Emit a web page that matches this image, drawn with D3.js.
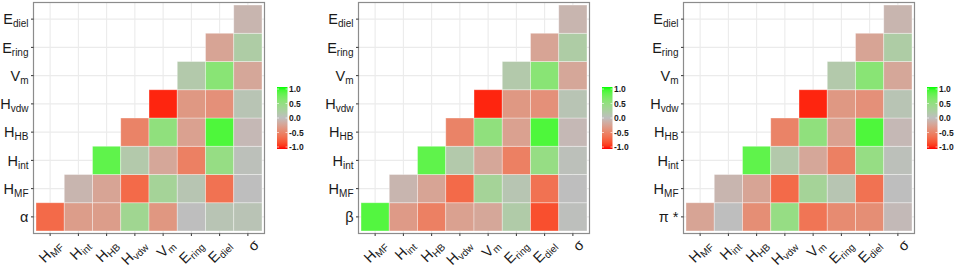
<!DOCTYPE html>
<html>
<head>
<meta charset="utf-8">
<script src="https://cdn.jsdelivr.net/npm/d3@7"></script>
<style>
  body { margin: 0; background: #fff; }
  text { font-family: "Liberation Sans", Arial, sans-serif; }
</style>
</head>
<body>
<script>
// Correlation triangles for three solvent parameters

// x axis variables, left to right
const colVars = ["HMF", "Hint", "HHB", "Hvdw", "Vm", "Ering", "Ediel", "sigma"];
// y axis variables, bottom to top ("p" = the solvent parameter of the panel)
const rowVars = ["p", "HMF", "Hint", "HHB", "Hvdw", "Vm", "Ering", "Ediel"];

// [main text, subscript]
const varLabels = {
  HMF: ["H", "MF"], Hint: ["H", "int"], HHB: ["H", "HB"], Hvdw: ["H", "vdw"],
  Vm: ["V", "m"], Ering: ["E", "ring"], Ediel: ["E", "diel"], sigma: ["σ", ""]
};
const paramNames = ["α", "β", "π *"];

// shared correlations, each row vs the columns to its right
const corrHMF   = [-0.08, -0.22, -0.65, 0.30, 0.10, -0.60, 0.00];
const corrHint  = [0.80, 0.15, -0.20, -0.50, 0.45, 0.03];
const corrHHB   = [-0.48, 0.50, -0.25, 0.87, -0.05];
const corrHvdw  = [-0.95, -0.32, -0.38, 0.08];
const corrVm    = [0.15, 0.55, -0.20];
const corrEring = [-0.22, 0.20];
const corrEdiel = [-0.08];

// bottom row of each panel: parameter vs all columns
const alphaRow = [-0.65, -0.28, -0.28, 0.35, -0.33, 0.00, 0.08, 0.07];
const betaRow  = [0.85, -0.30, -0.50, -0.25, -0.20, 0.18, -0.80, 0.02];
const piRow    = [-0.22, 0.00, -0.40, 0.45, -0.58, -0.42, -0.40, -0.04];

const legendTicks = [1.0, 0.5, 0.0, -0.5, -1.0];

const sharedRows = {
  HMF: corrHMF, Hint: corrHint, HHB: corrHHB, Hvdw: corrHvdw,
  Vm: corrVm, Ering: corrEring, Ediel: corrEdiel
};

const color = d3.scaleLinear()
  .domain([-1, 0, 1])
  .range(["#ff0000", "#bebebe", "#00ff00"])
  .interpolate(d3.interpolateLab);

const svg = d3.select("body").append("svg")
  .attr("width", 957)
  .attr("height", 267);

svg.append("rect").attr("width", 957).attr("height", 267).attr("fill", "#fff");

// gradient for the colour bars
const grad = svg.append("defs").append("linearGradient")
  .attr("id", "cbar")
  .attr("x1", 0).attr("y1", 1).attr("x2", 0).attr("y2", 0);
d3.range(0, 1.001, 0.05).forEach(function(t) {
  grad.append("stop")
    .attr("offset", t)
    .attr("stop-color", color(-1 + 2 * t));
});

function buildCells(paramRow) {
  const cells = [];
  paramRow.forEach(function(v, i) {
    cells.push({row: "p", col: colVars[i], value: v});
  });
  rowVars.slice(1).forEach(function(r) {
    const start = colVars.indexOf(r) + 1;
    sharedRows[r].forEach(function(v, j) {
      cells.push({row: r, col: colVars[start + j], value: v});
    });
  });
  return cells;
}

function writeLabel(sel, lab) {
  sel.text(null);
  sel.append("tspan").text(lab[0]);
  if (lab[1]) {
    sel.append("tspan")
      .attr("font-size", "10px")
      .attr("dy", 3)
      .text(lab[1]);
  }
}

function drawPanel(off, paramName, paramRow) {
  const g = svg.append("g").attr("transform", "translate(" + off + ",0)");

  const x = d3.scaleBand().domain(colVars).range([36, 262]);
  const y = d3.scaleBand().domain(rowVars).range([231, 5]);

  const left = 33.5, right = 264.5, top = 2.5, bottom = 233.5;

  // grid lines
  g.append("g").selectAll("line.v").data(colVars).enter().append("line")
    .attr("x1", d => x(d) + x.bandwidth() / 2)
    .attr("x2", d => x(d) + x.bandwidth() / 2)
    .attr("y1", top).attr("y2", bottom)
    .attr("stroke", "#ebebeb").attr("stroke-width", 1.1);
  g.append("g").selectAll("line.h").data(rowVars).enter().append("line")
    .attr("y1", d => y(d) + y.bandwidth() / 2)
    .attr("y2", d => y(d) + y.bandwidth() / 2)
    .attr("x1", left).attr("x2", right)
    .attr("stroke", "#ebebeb").attr("stroke-width", 1.1);

  // tiles
  g.append("g").selectAll("rect").data(buildCells(paramRow)).enter().append("rect")
    .attr("x", d => x(d.col))
    .attr("y", d => y(d.row))
    .attr("width", x.bandwidth())
    .attr("height", y.bandwidth())
    .attr("fill", d => color(d.value))
    .attr("stroke", "#ffffff")
    .attr("stroke-opacity", 0.45)
    .attr("stroke-width", 0.8);

  // panel border
  g.append("rect")
    .attr("x", left).attr("y", top)
    .attr("width", right - left).attr("height", bottom - top)
    .attr("fill", "none")
    .attr("stroke", "#8c8c8c")
    .attr("stroke-width", 1.2);

  // y axis
  const yAxis = g.append("g")
    .attr("transform", "translate(" + left + ",0)")
    .call(d3.axisLeft(y).tickSize(2.5).tickPadding(2.5));
  yAxis.select(".domain").remove();
  yAxis.selectAll(".tick line").attr("stroke", "#333");
  yAxis.selectAll(".tick text")
    .attr("font-size", "14.5px")
    .attr("fill", "#1a1a1a")
    .attr("dy", "0.36em")
    .each(function(d) {
      const lab = d === "p" ? [paramName, ""] : varLabels[d];
      writeLabel(d3.select(this), lab);
    });

  // x axis
  const xAxis = g.append("g")
    .attr("transform", "translate(0," + bottom + ")")
    .call(d3.axisBottom(x).tickSize(2.5));
  xAxis.select(".domain").remove();
  xAxis.selectAll(".tick line").attr("stroke", "#333");
  xAxis.selectAll(".tick text")
    .attr("font-size", "14.5px")
    .attr("fill", "#1a1a1a")
    .attr("x", 0).attr("y", 0)
    .attr("dy", "0.71em")
    .attr("text-anchor", "end")
    .attr("transform", "translate(5,5) rotate(-45)")
    .each(function(d) { writeLabel(d3.select(this), varLabels[d]); });

  // legend colour bar
  const ly = d3.scaleLinear().domain([-1, 1]).range([147, 89]);
  const lx = 277, lw = 10.5;
  g.append("rect")
    .attr("x", lx).attr("y", 87).attr("width", lw).attr("height", 62)
    .attr("fill", "url(#cbar)");
  const lt = g.append("g").selectAll("g").data(legendTicks).enter().append("g");
  lt.append("line")
    .attr("x1", lx).attr("x2", lx + 2)
    .attr("y1", d => ly(d)).attr("y2", d => ly(d))
    .attr("stroke", "#fff").attr("stroke-width", 0.6);
  lt.append("line")
    .attr("x1", lx + lw - 2).attr("x2", lx + lw)
    .attr("y1", d => ly(d)).attr("y2", d => ly(d))
    .attr("stroke", "#fff").attr("stroke-width", 0.6);
  lt.append("text")
    .attr("x", lx + lw + 1.5)
    .attr("y", d => ly(d))
    .attr("dy", "0.36em")
    .attr("font-size", "8.5px")
    .attr("font-weight", "bold")
    .attr("fill", "#1a1a1a")
    .text(d => d3.format(".1f")(d).replace("−", "-"));
}

drawPanel(0, paramNames[0], alphaRow);
drawPanel(325, paramNames[1], betaRow);
drawPanel(650, paramNames[2], piRow);
</script>
</body>
</html>
